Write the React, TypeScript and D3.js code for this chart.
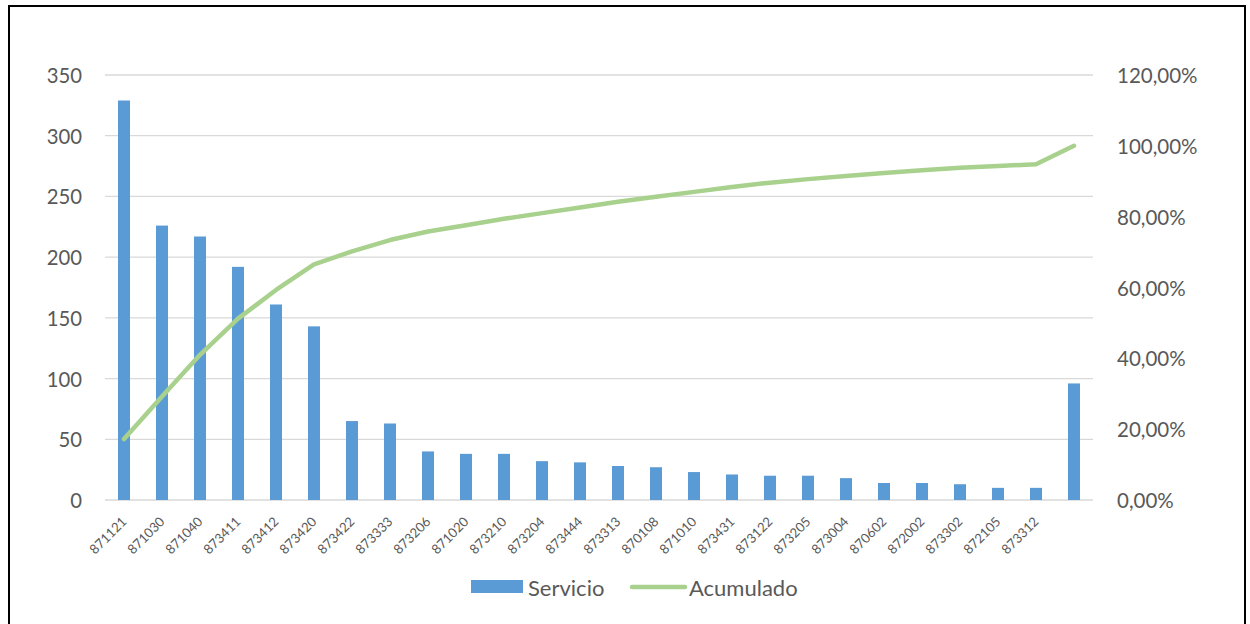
import React from "react";
import * as d3 from "d3";

const categories: string[] = [
  "871121", "871030", "871040", "873411", "873412", "873420", "873422", "873333",
  "873206", "871020", "873210", "873204", "873444", "873313", "870108", "871010",
  "873431", "873122", "873205", "873004", "870602", "872002", "873302", "872105",
  "873312", "",
];

const servicio: number[] = [
  329, 226, 217, 192, 161, 143, 65, 63, 40, 38, 38, 32, 31, 28, 27, 23, 21, 20, 20, 18,
  14, 14, 13, 10, 10, 96,
];

const acumulado: number[] = [
  17.2, 29.2, 41.0, 51.2, 59.3, 66.5, 70.2, 73.4, 75.8, 77.6, 79.4, 81.0, 82.6, 84.2,
  85.6, 87.0, 88.4, 89.6, 90.6, 91.5, 92.3, 93.1, 93.8, 94.3, 94.8, 100,
];

const leftTicks: number[] = [0, 50, 100, 150, 200, 250, 300, 350];
const rightTicks: number[] = [0, 20, 40, 60, 80, 100, 120];

const W = 1250;
const H = 624;
const FONT = "Lato, 'Open Sans', sans-serif";
const TEXT = "#595959";

export default function App() {
  const plotL = 105, plotR = 1093, plotT = 75, plotB = 500;
  const keys = categories.map((_, i) => String(i));
  const x = d3.scaleBand<string>().domain(keys).range([plotL, plotR]).paddingInner(0.684).paddingOuter(0.342);
  const yL = d3.scaleLinear().domain([0, 350]).range([plotB, plotT]);
  const yR = d3.scaleLinear().domain([0, 120]).range([plotB, plotT]);
  const cx = (i: number) => (x(String(i)) as number) + x.bandwidth() / 2;
  const line = d3.line<number>().x((_, i) => cx(i)).y((d) => yR(d));

  return (
    <svg width={W} height={H} style={{ position: "absolute", left: 0, top: 0, background: "#fff" }}
      fontFamily={FONT}>
      <rect x={0} y={0} width={W} height={H} fill="#fff" />
      <rect x={9} y={6} width={1236} height={640} fill="none" stroke="#000" strokeWidth={2} />
      {leftTicks.map((t) => (
        <line key={"g" + t} x1={plotL} x2={plotR} y1={yL(t)} y2={yL(t)} stroke="#D9D9D9" strokeWidth={1.3} />
      ))}
      {leftTicks.map((t) => (
        <text key={"l" + t} x={82} y={yL(t)} textAnchor="end" dominantBaseline="central" fontSize={20.3} fill={TEXT}>
          {t}
        </text>
      ))}
      {rightTicks.map((t) => (
        <text key={"r" + t} x={1117} y={yR(t)} textAnchor="start" dominantBaseline="central" fontSize={20.5} fill={TEXT}>
          {d3.format(".2f")(t).replace(".", ",") + "%"}
        </text>
      ))}
      {servicio.map((v, i) => (
        <rect key={"b" + i} x={x(String(i))} y={yL(v)} width={x.bandwidth()} height={yL(0) - yL(v)} fill="#5B9BD5" />
      ))}
      <path d={line(acumulado) || ""} fill="none" stroke="#A9D18E" strokeWidth={4.5} strokeLinecap="round" strokeLinejoin="round" />
      {categories.map((c, i) => (
        <text key={"c" + i} transform={`translate(${cx(i)},${519}) rotate(-45)`} textAnchor="end"
          dominantBaseline="central" fontSize={13.2} fill={TEXT}>
          {c}
        </text>
      ))}
      <g>
        <rect x={471} y={580} width={52} height={13} fill="#5B9BD5" />
        <text x={528} y={587} dominantBaseline="central" fontSize={22} fill={TEXT}>Servicio</text>
        <line x1={632} x2={685} y1={587} y2={587} stroke="#A9D18E" strokeWidth={4.5} strokeLinecap="round" />
        <text x={689} y={587} dominantBaseline="central" fontSize={22} fill={TEXT}>Acumulado</text>
      </g>
    </svg>
  );
}
